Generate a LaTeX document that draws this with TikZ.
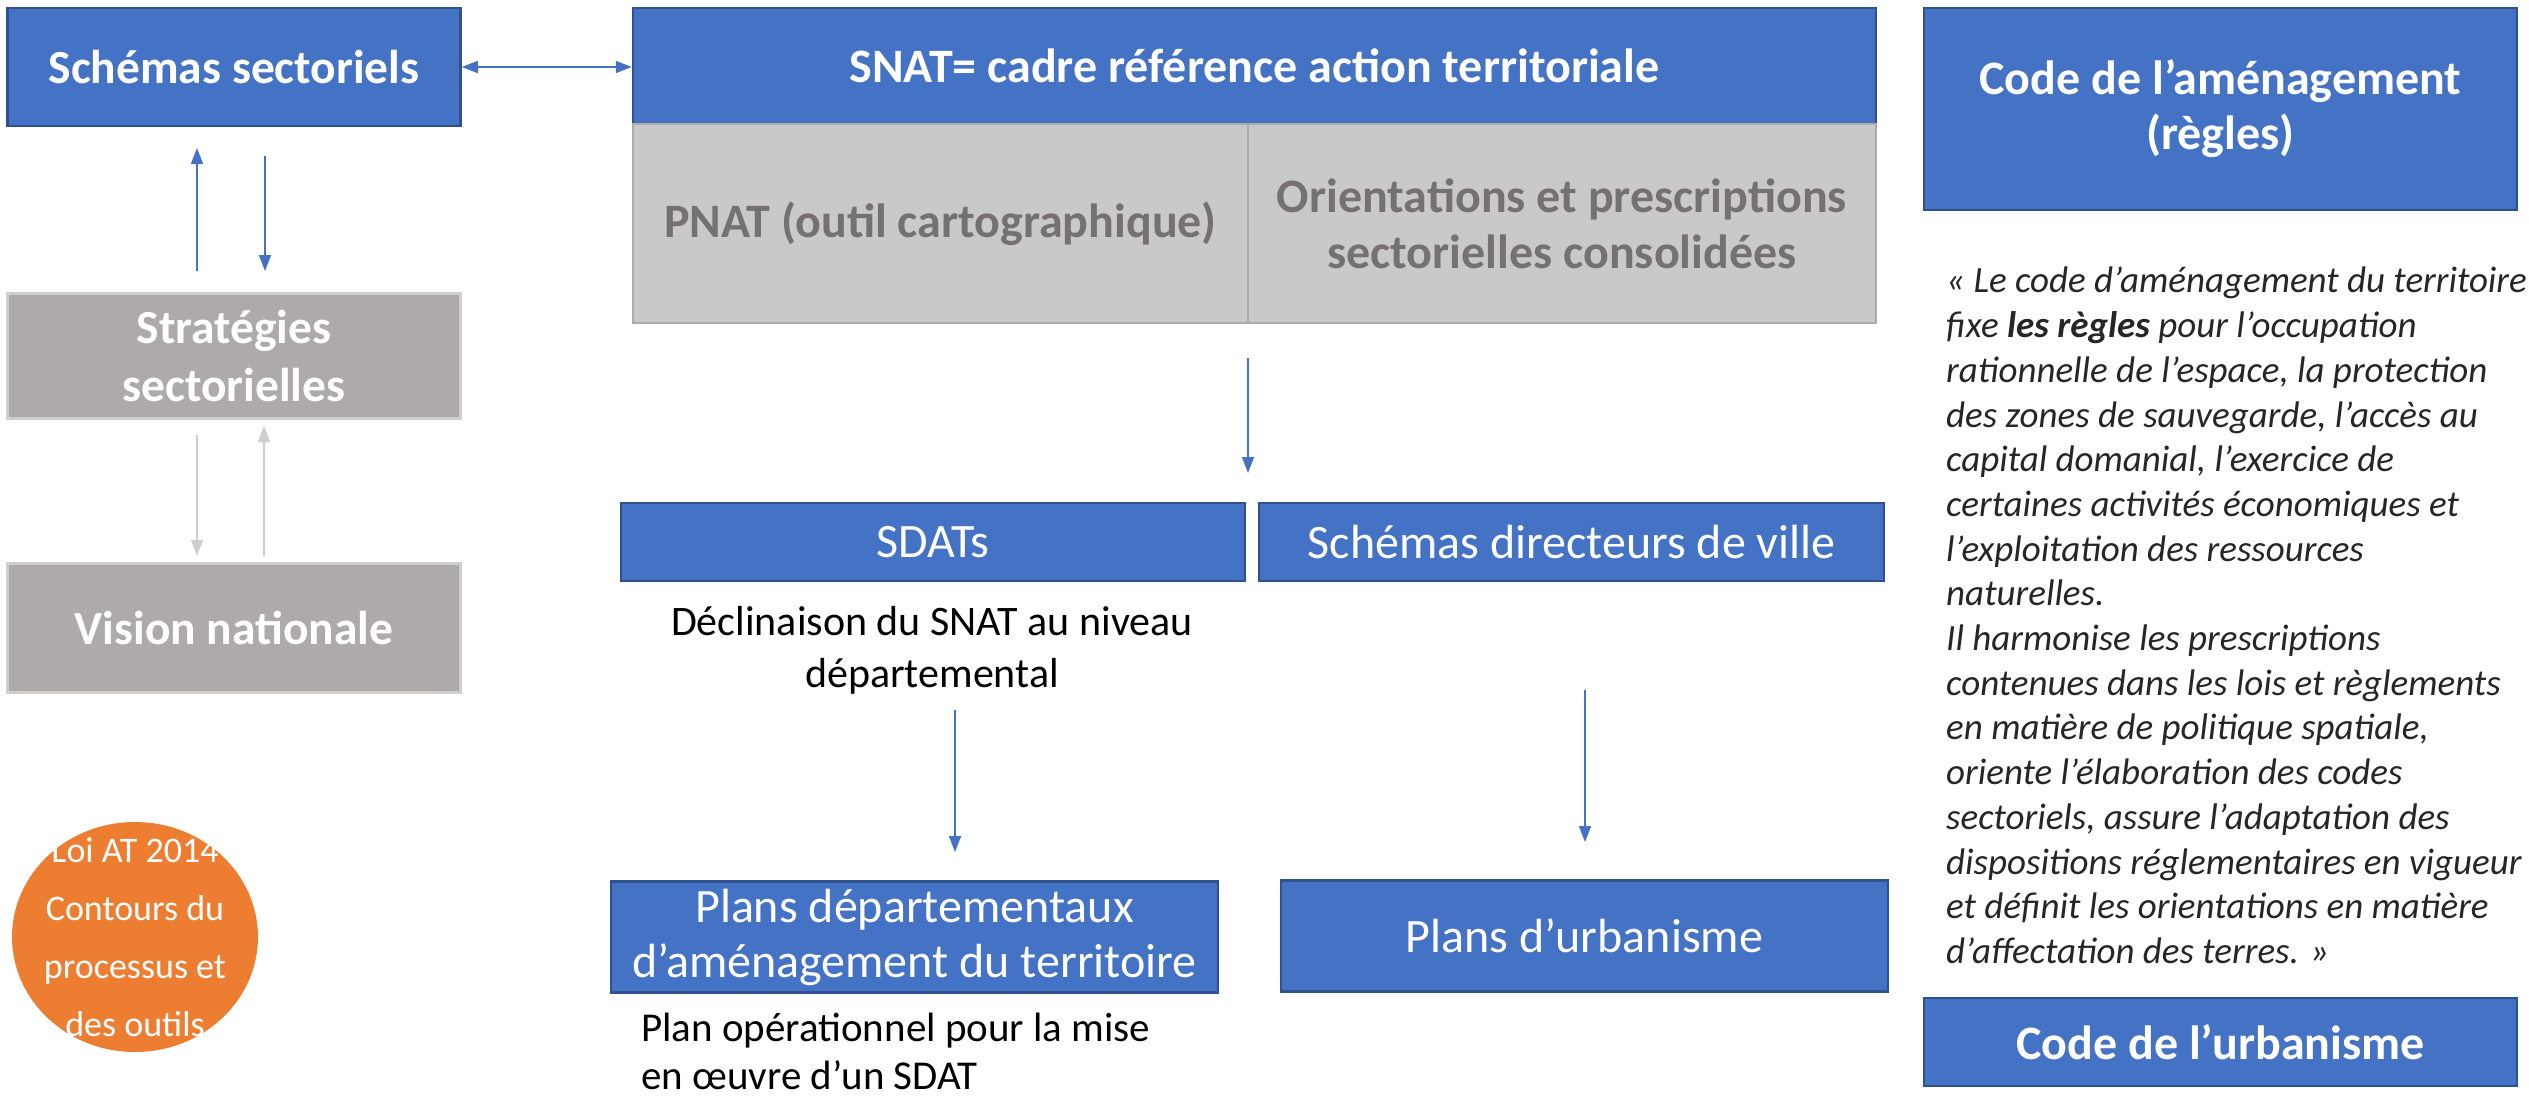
\documentclass[tikz,border=0pt]{standalone}
\usepackage{fontspec}
\setmainfont{Carlito}
\usetikzlibrary{arrows.meta,shapes.geometric,calc}
\definecolor{cblue}{HTML}{4472C4}
\definecolor{cblueb}{HTML}{2F528F}
\definecolor{cgraycell}{HTML}{C9C9C9}
\definecolor{cgraytxt}{HTML}{767171}
\definecolor{cgraybox}{HTML}{AEAAAA}
\definecolor{cgrayboxb}{HTML}{D0CECE}
\definecolor{corange}{HTML}{ED7D31}
\definecolor{cquote}{HTML}{262626}
\definecolor{clightarr}{HTML}{D0CECE}
\tikzset{
  bluebox/.style={draw=cblueb, fill=cblue, line width=2.5pt, text=white, inner sep=0pt, align=center},
  graybox/.style={draw=cgrayboxb, fill=cgraybox, line width=2.5pt, text=white, inner sep=0pt, align=center},
  cellbox/.style={draw=cgraytxt!60, fill=cgraycell, line width=2pt, text=cgraytxt, inner sep=0pt, align=center},
  arr/.style={draw=cblue, line width=1.6pt, -{Triangle[length=16pt,width=12pt]}},
  darr/.style={draw=cblue, line width=1.6pt, {Triangle[length=16pt,width=12pt]}-{Triangle[length=16pt,width=12pt]}},
  larr/.style={draw=clightarr, line width=1.6pt, -{Triangle[length=16pt,width=12pt]}},
  plain/.style={inner sep=0pt, align=center}
}
\newcommand{\fs}[2]{\fontsize{#1}{#2}\selectfont}
\begin{document}
\begin{tikzpicture}[x=1pt,y=-1pt]
\useasboundingbox[fill=white] (0,0) rectangle (2529,1103);
% left column
\node[bluebox, minimum width=453pt, minimum height=118pt, font=\fs{47.5}{56}\bfseries] (schemas) at (234,67) {Schémas sectoriels};
\node[graybox, minimum width=453pt, minimum height=125pt, font=\fs{47.5}{58}\bfseries] (strat) at (234,356) {Stratégies\\sectorielles};
\node[graybox, minimum width=453pt, minimum height=129pt, font=\fs{47.5}{56}\bfseries] (vision) at (234,628) {Vision nationale};
\node[ellipse, fill=corange, minimum width=246pt, minimum height=230pt, inner sep=0pt] (loi) at (135,937) {};
\node[plain, text=white, font=\fs{36}{58}] (loitxt) at (135,937) {Loi AT 2014\\Contours du\\processus et\\des outils};
% SNAT
\node[bluebox, minimum width=1243pt, minimum height=116pt, font=\fs{48}{56}\bfseries] (snat) at (1254.5,66) {SNAT= cadre référence action territoriale};
\node[cellbox, minimum width=615pt, minimum height=199pt, font=\fs{48}{56}\bfseries] (pnat) at (940.5,223.5) {PNAT (outil cartographique)};
\node[cellbox, minimum width=628pt, minimum height=199pt, font=\fs{48}{56}\bfseries] (orient) at (1562,223.5) {Orientations et prescriptions\\sectorielles consolidées};
% middle
\node[bluebox, minimum width=624pt, minimum height=78pt, font=\fs{48}{56}] (sdat) at (933,542) {SDATs};
\node[bluebox, minimum width=625pt, minimum height=78pt, font=\fs{48}{56}] (sdv) at (1571.5,542) {Schémas directeurs de ville};
\node[plain, font=\fs{42}{52}] (decl) at (932,650) {Déclinaison du SNAT au niveau\\départemental};
\node[bluebox, minimum width=607pt, minimum height=111pt, font=\fs{48}{55}] (pdat) at (914.5,937) {Plans départementaux\\d’aménagement du territoire};
\node[bluebox, minimum width=607pt, minimum height=111pt, font=\fs{48}{56}] (purb) at (1584.5,936) {Plans d’urbanisme};
\node[plain, align=left, anchor=north west, font=\fs{41}{48}] (plop) at (641,1013) {Plan opérationnel pour la mise\\en œuvre d’un SDAT};
% right column
\node[bluebox, minimum width=593pt, minimum height=202pt, font=\fs{48}{55}\bfseries] (codeam) at (2220.5,109) {Code de l’aménagement\\(règles)};
\node[plain, align=left, anchor=north west, text=cquote, font=\fs{37}{44.7}\itshape] (quote) at (1946,267) {« Le code d’aménagement du territoire\\fixe \textbf{les règles} pour l’occupation\\rationnelle de l’espace, la protection\\des zones de sauvegarde, l’accès au\\capital domanial, l’exercice de\\certaines activités économiques et\\l’exploitation des ressources\\naturelles.\\Il harmonise les prescriptions\\contenues dans les lois et règlements\\en matière de politique spatiale,\\oriente l’élaboration des codes\\sectoriels, assure l’adaptation des\\dispositions réglementaires en vigueur\\et définit les orientations en matière\\d’affectation des terres. »};
\node[bluebox, minimum width=593pt, minimum height=88pt, font=\fs{48}{56}\bfseries] (codeurb) at (2220.5,1042) {Code de l’urbanisme};
% coordinates for free-standing arrows
\coordinate (a1s) at (197,271); \coordinate (a1e) at (197,148);
\coordinate (a2s) at (265,156); \coordinate (a2e) at (265,271);
\coordinate (a3s) at (197,435); \coordinate (a3e) at (197,556);
\coordinate (a4s) at (264,556); \coordinate (a4e) at (264,426);
\coordinate (a5s) at (1248,358); \coordinate (a5e) at (1248,473);
\coordinate (a6s) at (955,710); \coordinate (a6e) at (955,852);
\coordinate (a7s) at (1585,690); \coordinate (a7e) at (1585,842);
% connectors
\draw[darr] (schemas.east) -- (schemas.east -| snat.west);
\draw[arr] (a1s) -- (a1e);
\draw[arr] (a2s) -- (a2e);
\draw[larr] (a3s) -- (a3e);
\draw[larr] (a4s) -- (a4e);
\draw[arr] (a5s) -- (a5e);
\draw[arr] (a6s) -- (a6e);
\draw[arr] (a7s) -- (a7e);
\end{tikzpicture}
\end{document}
